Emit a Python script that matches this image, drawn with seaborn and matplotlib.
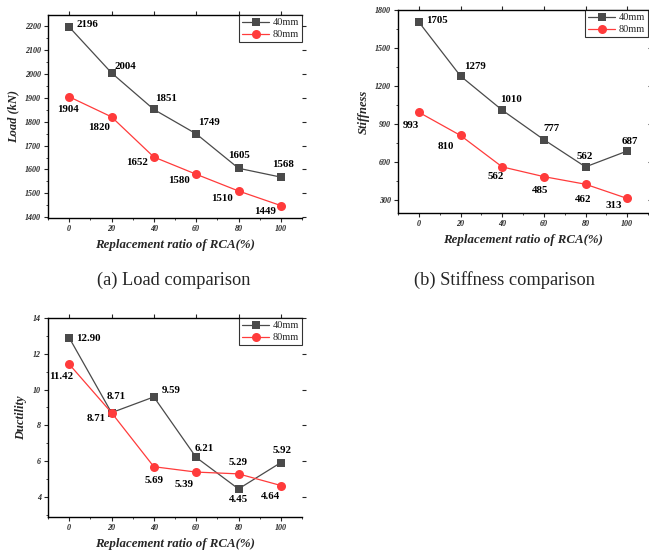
import matplotlib
matplotlib.use("Agg")
import matplotlib.pyplot as plt
import seaborn as sns
import pandas as pd
from matplotlib.ticker import MultipleLocator

sns.set_style("ticks")
plt.rcParams['font.family'] = ['Liberation Serif', 'DejaVu Serif']
plt.rcParams['mathtext.fontset'] = 'stix'

# ---------------- data ----------------
ratio = [0, 20, 40, 60, 80, 100]
series_names = ["40mm", "80mm"]

load_40 = [2196, 2004, 1851, 1749, 1605, 1568]
load_80 = [1904, 1820, 1652, 1580, 1510, 1449]
load_40_txt = ["2196", "2004", "1851", "1749", "1605", "1568"]
load_80_txt = ["1904", "1820", "1652", "1580", "1510", "1449"]

stiff_40 = [1705, 1279, 1010, 777, 562, 687]
stiff_80 = [993, 810, 562, 485, 425, 313]
stiff_40_txt = ["1705", "1279", "1010", "777", "562", "687"]
stiff_80_txt = ["993", "810", "562", "485", "462", "313"]

duct_40 = [12.90, 8.71, 9.59, 6.21, 4.45, 5.92]
duct_80 = [11.42, 8.71, 5.69, 5.39, 5.29, 4.64]
duct_40_txt = ["12.90", "8.71", "9.59", "6.21", "4.45", "5.92"]
duct_80_txt = ["11.42", "8.71", "5.69", "5.39", "5.29", "4.64"]

x_label = "Replacement ratio of RCA(%)"
captions = ["(a) Load comparison", "(b) Stiffness comparison"]

# ---------------- style / layout ----------------
W, H = 649, 551
C40 = "#4a4a4a"
C80 = "#ff3b3b"

def px_rect(l, t, r, b):
    return [l / W, 1 - b / H, (r - l) / W, (b - t) / H]

fig = plt.figure(figsize=(W / 100, H / 100), dpi=100)

panels = [
    dict(rect=px_rect(48, 15, 302, 218), y40=load_40, y80=load_80,
         t40=load_40_txt, t80=load_80_txt, ylabel="Load (kN)",
         ylim=(1397, 2246), major=100, minor=50,
         o40=[(18, 2), (14, 6), (12, 11), (13, 11), (0, 13), (2, 13)],
         o80=[(-1, -13), (-12, -11), (-17, -5), (-17, -6), (-17, -8), (-16, -6)]),
    dict(rect=px_rect(398, 10, 648, 213), y40=stiff_40, y80=stiff_80,
         t40=stiff_40_txt, t80=stiff_80_txt, ylabel="Stiffness",
         ylim=(198, 1800), major=300, minor=150,
         o40=[(18, 2), (14, 10), (9, 11), (8, 11), (-1, 10), (3, 10)],
         o80=[(-8, -13), (-15, -11), (-6, -10), (-4, -14), (-2, -15), (-13, -7)]),
    dict(rect=px_rect(48, 318, 302, 517), y40=duct_40, y80=duct_80,
         t40=duct_40_txt, t80=duct_80_txt, ylabel="Ductility",
         ylim=(2.88, 14), major=2, minor=1,
         o40=[(19, -1), (5, 16), (17, 6), (8, 9), (0, -11), (1, 12)],
         o80=[(-8, -12), (-15, -6), (0, -14), (-12, -12), (0, 11), (-10, -11)]),
]

for p in panels:
    ax = fig.add_axes(p["rect"])
    df = pd.DataFrame({
        "ratio": ratio + ratio,
        "val": list(p["y40"]) + list(p["y80"]),
        "series": [series_names[0]] * len(ratio) + [series_names[1]] * len(ratio),
    })
    sns.lineplot(data=df[df.series == "40mm"], x="ratio", y="val", ax=ax,
                 color=C40, marker="s", markersize=6, markeredgewidth=0,
                 linewidth=0.9, label="40mm")
    sns.lineplot(data=df[df.series == "80mm"], x="ratio", y="val", ax=ax,
                 color=C80, marker="o", markersize=6.5, markeredgewidth=0,
                 linewidth=0.9, label="80mm")

    for xv, yv, t, o in zip(ratio, p["y40"], p["t40"], p["o40"]):
        ax.annotate(t, (xv, yv), xytext=o, textcoords="offset pixels",
                    ha="center", va="center", fontsize=7.8, fontweight="bold",
                    color="black")
    for xv, yv, t, o in zip(ratio, p["y80"], p["t80"], p["o80"]):
        ax.annotate(t, (xv, yv), xytext=o, textcoords="offset pixels",
                    ha="center", va="center", fontsize=7.8, fontweight="bold",
                    color="black")

    ax.set_xlim(-10, 110)
    ax.set_ylim(*p["ylim"])
    ax.set_xticks(ratio)
    ax.xaxis.set_minor_locator(MultipleLocator(10))
    ax.yaxis.set_major_locator(MultipleLocator(p["major"]))
    ax.yaxis.set_minor_locator(MultipleLocator(p["minor"]))

    ax.set_xlabel(x_label, fontsize=9.3, fontweight="bold", fontstyle="italic",
                  labelpad=4)
    ax.set_ylabel(p["ylabel"], fontsize=9, fontweight="bold",
                  fontstyle="italic", labelpad=4)

    for side in ["left", "bottom", "top"]:
        ax.spines[side].set_visible(True)
        ax.spines[side].set_linewidth(1.0)
        ax.spines[side].set_color("black")
    ax.spines["right"].set_visible(False)

    ax.tick_params(which="major", direction="out", length=3, width=0.8,
                   labelsize=5.8, top=True, right=True, pad=2)
    ax.tick_params(which="minor", direction="out", length=1.5, width=0.6,
                   top=False, right=False)
    for lab in ax.get_xticklabels() + ax.get_yticklabels():
        lab.set_fontweight("bold")
        lab.set_fontstyle("italic")

    leg = ax.legend(loc="upper right", fontsize=7.5, frameon=True, fancybox=False,
                    borderaxespad=0, handlelength=2.6, borderpad=0.3,
                    labelspacing=0.25, handletextpad=0.3)
    leg.get_frame().set_edgecolor("black")
    leg.get_frame().set_linewidth(0.8)

fig.text(174 / W, 1 - 280 / H, captions[0], ha="center", va="center",
         fontsize=13.2)
fig.text(504 / W, 1 - 280 / H, captions[1], ha="center", va="center",
         fontsize=13.2)

fig.savefig("out.png", dpi=100, facecolor="white")
